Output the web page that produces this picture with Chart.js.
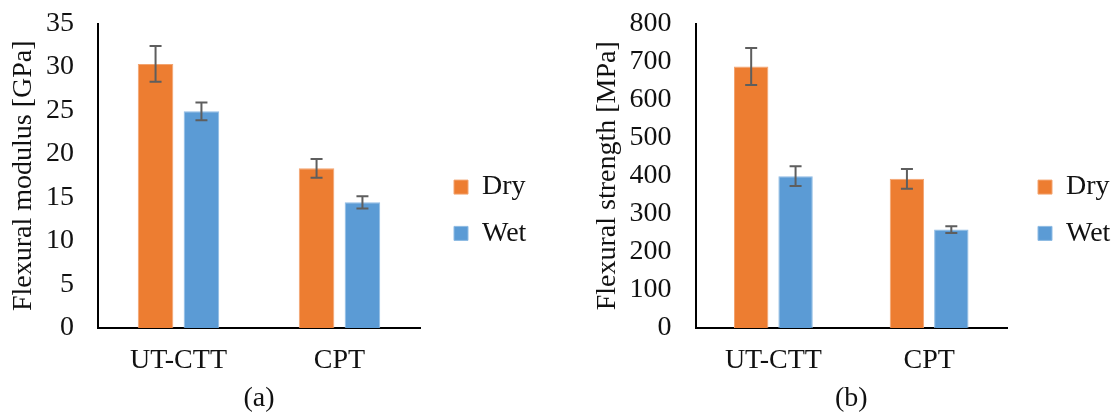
<!DOCTYPE html>
<html>
<head>
<meta charset="utf-8">
<script src="https://cdn.jsdelivr.net/npm/chart.js@4.4.1/dist/chart.umd.min.js"></script>
<style>
  html, body { margin: 0; padding: 0; background: #fff; overflow: hidden; }
  .panel { position: absolute; top: 0; height: 412px; }
  #left { left: 0; width: 540px; }
  #right { left: 540px; width: 575px; }
</style>
</head>
<body>
<div class="panel" id="left"><canvas id="modulus-canvas" width="540" height="412"></canvas></div>
<div class="panel" id="right"><canvas id="strength-canvas" width="575" height="412"></canvas></div>
<script>
const categories = ['UT-CTT', 'CPT'];
const seriesNames = ['Dry', 'Wet'];

// (a) flexural modulus, GPa
const modulusDry = [30.35, 18.35];
const modulusDryErr = [2.05, 1.07];
const modulusWet = [24.9, 14.45];
const modulusWetErr = [1.02, 0.7];

// (b) flexural strength, MPa
const strengthDry = [687, 392];
const strengthDryErr = [48.5, 26];
const strengthWet = [399, 258.5];
const strengthWetErr = [26, 8.7];

const FONT = "'Liberation Serif', 'Times New Roman', serif";
const TEXT = '#111';
const DRY_COLOR = '#ED7D31';
const DRY_EDGE = '#F3A470';
const WET_COLOR = '#5B9BD5';
const WET_EDGE = '#8EBBE4';

const errorBarPlugin = {
  id: 'errorBars',
  afterDatasetsDraw(chart) {
    const ctx = chart.ctx;
    const yScale = chart.scales.y;
    ctx.save();
    ctx.strokeStyle = '#5E5E5E';
    ctx.lineWidth = 2;
    chart.data.datasets.forEach((ds, i) => {
      const meta = chart.getDatasetMeta(i);
      meta.data.forEach((bar, j) => {
        const v = ds.data[j];
        const e = ds.errors[j];
        const top = yScale.getPixelForValue(v + e);
        const bot = yScale.getPixelForValue(v - e);
        ctx.beginPath();
        ctx.moveTo(bar.x, top);
        ctx.lineTo(bar.x, bot);
        ctx.moveTo(bar.x - 6, top);
        ctx.lineTo(bar.x + 6, top);
        ctx.moveTo(bar.x - 6, bot);
        ctx.lineTo(bar.x + 6, bot);
        ctx.stroke();
      });
    });
    ctx.restore();
  },
};

function makeChart(canvas, opts) {
  return new Chart(canvas.getContext('2d'), {
    type: 'bar',
    data: {
      labels: categories,
      datasets: [{
        label: seriesNames[0],
        data: opts.dry,
        errors: opts.dryErr,
        backgroundColor: DRY_COLOR,
        borderColor: DRY_EDGE,
        borderWidth: 1,
        yAxisID: 'y',
      }, {
        label: seriesNames[1],
        data: opts.wet,
        errors: opts.wetErr,
        backgroundColor: WET_COLOR,
        borderColor: WET_EDGE,
        borderWidth: 1,
        yAxisID: 'y',
      }],
    },
    options: {
      responsive: false,
      animation: false,
      categoryPercentage: 0.57,
      barPercentage: 0.775,
      layout: { padding: { top: 23.5, left: 0, right: opts.padRight, bottom: 15 } },
      scales: {
        x: {
          grid: { display: false, drawTicks: false },
          border: { display: true, color: '#000', width: 2 },
          ticks: { color: TEXT, padding: 16, font: { family: FONT, size: 28 } },
          title: {
            display: true, text: opts.caption, color: TEXT,
            font: { family: FONT, size: 28, lineHeight: 1 },
            padding: { top: 0, bottom: -16 },
          },
          afterFit: s => { s.height = 69; },
        },
        y: {
          min: 0,
          max: opts.max,
          // tick length (not drawn) gives the label gap without adding top padding
          grid: { display: false, drawTicks: true, tickLength: 24 },
          border: { display: true, color: '#000', width: 2 },
          ticks: { stepSize: opts.step, autoSkip: false, color: TEXT, padding: 0, font: { family: FONT, size: 28 } },
          title: {
            display: true, text: opts.yTitle, color: TEXT,
            font: { family: FONT, size: 28, lineHeight: 1 },
            padding: { top: opts.titlePad, bottom: 0 },
          },
          afterFit: s => { s.width = opts.yWidth; },
        },
        // empty spacer between plot and legend
        gap: {
          type: 'linear',
          position: 'right',
          grid: { display: false, drawTicks: false },
          border: { display: false },
          ticks: { display: false },
          afterFit: s => { s.width = opts.gap; },
        },
      },
      plugins: {
        legend: {
          position: 'right',
          maxWidth: 96,
          labels: {
            color: TEXT,
            boxWidth: 14,
            boxHeight: 14,
            padding: 18.3,
            font: { family: FONT, size: 28 },
          },
        },
        tooltip: { enabled: false },
      },
    },
    plugins: [errorBarPlugin],
  });
}

makeChart(document.getElementById('modulus-canvas'), {
  dry: modulusDry, dryErr: modulusDryErr, wet: modulusWet, wetErr: modulusWetErr,
  max: 35, step: 5, yTitle: 'Flexural modulus [GPa]', caption: '(a)',
  yWidth: 98, titlePad: 10, gap: 15.7, padRight: 8.3,
});

makeChart(document.getElementById('strength-canvas'), {
  dry: strengthDry, dryErr: strengthDryErr, wet: strengthWet, wetErr: strengthWetErr,
  max: 800, step: 100, yTitle: 'Flexural strength [MPa]', caption: '(b)',
  yWidth: 155.5, titlePad: 53.5, gap: 12.7, padRight: -0.7,
});
</script>
</body>
</html>
